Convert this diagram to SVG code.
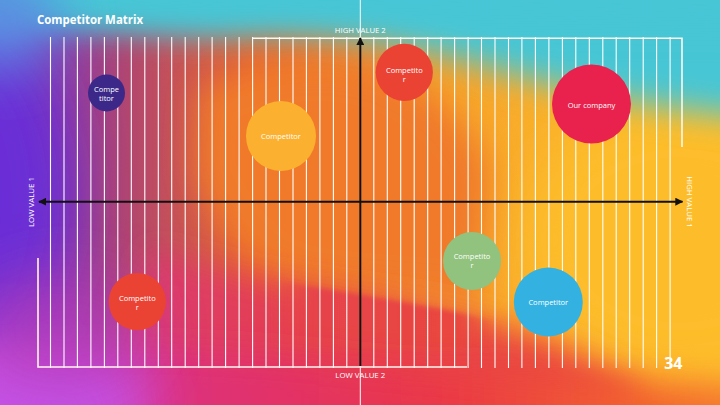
<svg xmlns="http://www.w3.org/2000/svg" width="720" height="405" viewBox="0 0 720 405">
  <defs>
    <linearGradient id="base" x1="0" y1="0" x2="1" y2="0">
      <stop offset="0" stop-color="#6b2fd3"/>
      <stop offset="0.18" stop-color="#b2466e"/>
      <stop offset="0.35" stop-color="#e9652f"/>
      <stop offset="0.6" stop-color="#f6a02a"/>
      <stop offset="0.8" stop-color="#fbb42b"/>
      <stop offset="1" stop-color="#fdbd2c"/>
    </linearGradient>
    <linearGradient id="bottomGrad" x1="0" y1="0" x2="1" y2="0">
      <stop offset="0" stop-color="#c845d8"/>
      <stop offset="0.3" stop-color="#de2f78"/>
      <stop offset="0.6" stop-color="#ea3846"/>
      <stop offset="0.85" stop-color="#f3642e"/>
      <stop offset="1" stop-color="#f6832c"/>
    </linearGradient>
    <linearGradient id="redGrad" x1="0" y1="0" x2="1" y2="0">
      <stop offset="0" stop-color="#d8387a"/>
      <stop offset="0.4" stop-color="#e6404c"/>
      <stop offset="1" stop-color="#ec4a3c"/>
    </linearGradient>
    <linearGradient id="edgeGrad" gradientUnits="userSpaceOnUse" x1="270" y1="0" x2="500" y2="0">
      <stop offset="0" stop-color="#e6434a" stop-opacity="0"/>
      <stop offset="0.2" stop-color="#e6434a" stop-opacity="1"/>
      <stop offset="0.8" stop-color="#e9463f" stop-opacity="1"/>
      <stop offset="1" stop-color="#e9463f" stop-opacity="0"/>
    </linearGradient>
    <filter id="blurBig" x="-50%" y="-50%" width="200%" height="200%">
      <feGaussianBlur stdDeviation="28"/>
    </filter>
    <filter id="blurMid" x="-50%" y="-50%" width="200%" height="200%">
      <feGaussianBlur stdDeviation="16"/>
    </filter>
    <filter id="blurSmall" x="-50%" y="-50%" width="200%" height="200%">
      <feGaussianBlur stdDeviation="2.5"/>
    </filter>
    <marker id="arrow" viewBox="0 0 10 10" refX="9" refY="5" markerWidth="4" markerHeight="4" orient="auto-start-reverse">
      <path d="M0,0 L10,5 L0,10 Z" fill="#111"/>
    </marker>
    <clipPath id="frameClip"><rect width="720" height="405"/></clipPath>
  </defs>
  <style>
    .grid { stroke: #ffffff; stroke-width: 1.1; fill: none; }
    .frame { stroke: #fff8ee; stroke-width: 1.6; fill: none; }
    .axis { stroke: #111111; stroke-width: 2; fill: none; }
    .axislabel { font-family: "Open Sans", "Liberation Sans", sans-serif; font-size: 7px; fill: #ffffff; }
    .lbl { font-family: "Open Sans", "Liberation Sans", sans-serif; font-size: 7.5px; fill: #ffffff; text-anchor: middle; }
    .title { font-family: "Open Sans", "Liberation Sans", sans-serif; font-size: 12.5px; font-weight: 700; fill: #ffffff; }
  </style>

  <!-- background -->
  <g id="background" clip-path="url(#frameClip)">
    <rect width="720" height="405" fill="url(#base)"/>
    <ellipse cx="680" cy="240" rx="160" ry="130" fill="#fdbd2b" filter="url(#blurBig)"/>
    <path d="M200,90 C260,60 320,55 380,70 C430,85 470,120 490,170 L480,300 C400,295 330,290 290,282 C240,260 210,220 195,170 Z" fill="#f07a2c" filter="url(#blurMid)"/>
    <path d="M150,250 C220,275 300,288 360,297 C430,307 500,322 560,345 L640,385 L640,440 L90,440 Z" fill="url(#redGrad)" filter="url(#blurMid)"/>
    <path d="M270,280 C340,292 420,303 500,322 L500,350 L270,350 Z" fill="url(#edgeGrad)" filter="url(#blurSmall)"/>
    <path d="M-50,20 L80,28 C150,32 200,40 260,34 C330,30 400,42 470,62 C560,88 650,110 770,118 L770,-50 L-50,-50 Z" fill="#47c6d5" filter="url(#blurMid)"/>
    <path d="M-50,-50 L770,-50 L770,25 L-50,15 Z" fill="#47c6d6" filter="url(#blurMid)"/>
    <ellipse cx="-30" cy="200" rx="100" ry="170" fill="#6a2ed6" filter="url(#blurBig)"/>
    <ellipse cx="0" cy="20" rx="60" ry="50" fill="#5b8ee2" filter="url(#blurBig)"/>
    <path d="M-50,455 L-50,355 C100,345 250,352 350,365 C450,375 560,380 770,385 L770,455 Z" fill="url(#bottomGrad)" filter="url(#blurMid)"/>
    <ellipse cx="10" cy="405" rx="140" ry="70" fill="#c652e8" filter="url(#blurBig)"/>
    <ellipse cx="60" cy="330" rx="90" ry="60" fill="#b43ab8" filter="url(#blurBig)" opacity="0.7"/>
  </g>

  <!-- center thin white line -->
  <line x1="360.3" y1="0" x2="360.3" y2="405" stroke="#ffffff" stroke-width="1"/>

  <!-- grid -->
  <g id="grid">
    <path class="grid" d="M50.5,37V368 M64,37V368 M77.4,37V368 M90.9,37V368 M104.4,37V368 M117.8,37V368 M131.3,37V368 M144.8,37V368 M158.3,37V368 M171.7,37V368 M185.2,37V368 M198.7,37V368 M212.1,37V368 M225.6,37V368 M239.1,37V368 M252.6,37V368 M266,37V368 M279.5,37V368 M293,37V368 M306.4,37V368 M319.9,37V368 M333.4,37V368 M346.8,37V368 M373.8,37V368 M387.3,37V368 M400.7,37V368 M414.2,37V368 M427.7,37V368 M441.1,37V368 M454.6,37V368 M468.1,37V368 M481.5,37V368 M495,37V368 M508.5,37V368 M521.9,37V368 M535.4,37V368 M548.9,37V368 M562.4,37V368 M575.8,37V368 M589.3,37V368 M602.8,37V368 M616.2,37V368 M629.7,37V368 M643.2,37V368 M656.6,37V368 M670.1,37V368"/>
    <path class="frame" d="M253,38.3 H682 V147"/>
    <path class="frame" d="M38,258 V367 H467"/>
  </g>

  <!-- connectors (axes) -->
  <g id="connectors">
    <line class="axis" x1="360.3" y1="366" x2="360.3" y2="38" marker-end="url(#arrow)"/>
    <line class="axis" x1="39" y1="201.7" x2="682.5" y2="201.7" marker-start="url(#arrow)" marker-end="url(#arrow)"/>
  </g>

  <!-- axis labels -->
  <g id="labels">
    <text class="axislabel" x="360.3" y="32.5" text-anchor="middle" textLength="51" lengthAdjust="spacingAndGlyphs">HIGH VALUE 2</text>
    <text class="axislabel" x="360.3" y="377.8" text-anchor="middle" textLength="50" lengthAdjust="spacingAndGlyphs">LOW VALUE 2</text>
    <text class="axislabel" transform="translate(33.5,202) rotate(-90)" text-anchor="middle" textLength="50" lengthAdjust="spacingAndGlyphs">LOW VALUE 1</text>
    <text class="axislabel" transform="translate(686.8,202) rotate(90)" text-anchor="middle" textLength="51.5" lengthAdjust="spacingAndGlyphs">HIGH VALUE 1</text>
  </g>

  <!-- title and page number -->
  <text class="title" x="37" y="23.5" textLength="106" lengthAdjust="spacingAndGlyphs">Competitor Matrix</text>
  <text class="title" x="682.5" y="369" text-anchor="end" style="font-size:16px">34</text>

  <!-- bubbles -->
  <g id="bubble-compe-titor">
    <circle cx="106.5" cy="93" r="18.5" fill="#3b2888"/>
    <text class="lbl" x="106.5" y="91.8">Compe</text>
    <text class="lbl" x="106.5" y="100.8">titor</text>
  </g>
  <g id="bubble-yellow">
    <circle cx="281" cy="136" r="35" fill="#fbb12f"/>
    <text class="lbl" x="281" y="138.8">Competitor</text>
  </g>
  <g id="bubble-red-top">
    <circle cx="404.3" cy="72.3" r="28.6" fill="#ea4334"/>
    <text class="lbl" x="404.3" y="72.5">Competito</text>
    <text class="lbl" x="404.3" y="81.5">r</text>
  </g>
  <g id="bubble-our-company">
    <circle cx="591.5" cy="104" r="39.5" fill="#e8214d"/>
    <text class="lbl" x="591.5" y="108">Our company</text>
  </g>
  <g id="bubble-green">
    <circle cx="472" cy="261" r="29" fill="#91c27e"/>
    <text class="lbl" x="472" y="259">Competito</text>
    <text class="lbl" x="472" y="268">r</text>
  </g>
  <g id="bubble-blue">
    <circle cx="548.3" cy="302" r="34.5" fill="#33b2e2"/>
    <text class="lbl" x="548.3" y="304.6">Competitor</text>
  </g>
  <g id="bubble-red-bottom">
    <circle cx="137.3" cy="301.7" r="28.6" fill="#ea4334"/>
    <text class="lbl" x="137.3" y="300.5">Competito</text>
    <text class="lbl" x="137.3" y="309.5">r</text>
  </g>
</svg>
